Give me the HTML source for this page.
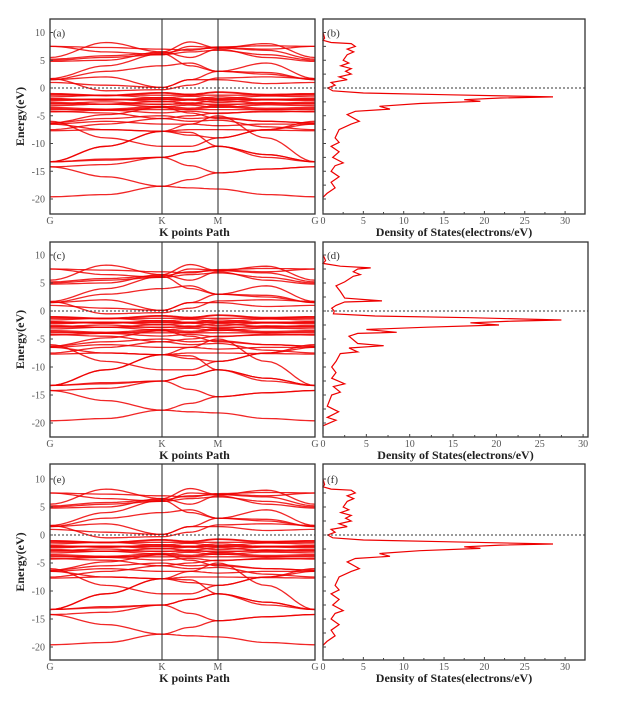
<!DOCTYPE html>
<html><head><meta charset="utf-8"><style>
body{margin:0;background:#fff;}
svg{display:block;font-family:"Liberation Serif",serif;}
</style></head><body>
<svg id="s" width="620" height="701" viewBox="0 0 620 701" xmlns="http://www.w3.org/2000/svg"></svg>
<script>
const S=document.getElementById('s');let h='';
const bands=[
[7.5,7.3,7.0,6.8,7.4,7.6,7.5],[5.5,8.2,6.5,8.3,7.2,8.0,5.5],[5.2,5.8,6.3,7.0,7.2,6.8,5.2],
[5.0,5.5,6.0,6.5,6.8,6.0,5.0],[4.8,5.0,6.5,5.5,7.0,5.5,4.8],[1.7,4.0,6.2,4.0,3.0,4.5,1.7],
[1.5,3.0,4.0,4.5,3.0,2.8,1.5],[1.5,2.0,0.1,1.5,3.0,2.5,1.5],[1.0,0.5,0.1,1.5,1.5,0.8,1.0],
[1.7,-0.5,-0.3,0.5,1.8,2.0,1.7],[7.5,6.5,6.0,7.5,7.3,7.0,7.5],
[-4.2,-4.5,-5.5,-5,-4.5,-4.3,-4.2],[-6.3,-5.5,-5.0,-5.5,-5.3,-6,-6.3],[-6.5,-6,-6.5,-6.5,-6.8,-6.5,-6.5],
[-7.5,-6.5,-5.5,-6,-5.8,-7,-7.5],[-6.5,-7.5,-7.8,-8.5,-9.0,-7.5,-6.5],[-7.7,-7.5,-7.8,-7.5,-7.5,-7.6,-7.7],
[-13.3,-10.5,-7.8,-6.5,-5.0,-9,-13.3],[-6.0,-9.0,-10.5,-10.5,-9,-7.5,-6],
[-13.3,-12.8,-12.5,-11.5,-10.5,-12,-13.3],[-19.6,-19.2,-17.7,-18.0,-18.2,-19.2,-19.6],
[-14.2,-16,-17.7,-16.5,-15.3,-14.6,-14.2],[-13.3,-13,-12.5,-14,-15.3,-14.6,-14.2],
[-14.2,-13.8,-12.5,-11.5,-10.5,-12,-13.3],[-13.3,-10.5,-7.8,-8,-10.5,-12.5,-13.3],
[-6.3,-4.8,-3.5,-4.5,-5.5,-6,-6.3]];
[-1,-1.3,-1.6,-1.9,-2.1,-2.3,-2.6,-2.9,-3.2,-3.5,-3.9,-4.3,-1.1,-2.0,-2.8,-3.7].forEach((v,i)=>{
 const d=(i%3-1)*0.3;bands.push([v,v+d,v-d*0.6,v+d*0.4,v-d,v+d*0.5,v]);});
const dosB=[[0,10],[0.2,9],[0,8.6],[1,8.2],[3.5,8],[4,7.5],[3,7],[3.8,6.5],[3,6],[2.5,5],[3.2,4.5],[2.2,4],[3.5,3.5],[2.8,3],[3.5,2.5],[2,2],[3,1.5],[1,1],[1.5,0.5],[0.6,0],[1.2,-0.5],[5,-0.9],[15,-1.2],[28.5,-1.6],[22,-1.8],[17.5,-2.1],[19.5,-2.4],[12,-2.8],[7,-3.3],[8.3,-3.8],[4,-4.2],[3,-4.8],[4.5,-6],[3.5,-6.5],[2,-7.5],[1.5,-9],[2,-9.8],[1,-10.5],[2,-11.5],[1.2,-12.5],[2.5,-13.5],[1.5,-14],[1,-15],[2,-16],[1,-17],[1.5,-18],[0.5,-19],[0,-19.7]];
const dosD=[[0,10],[0.3,9],[0,8.5],[2,8],[5.5,7.7],[4,7.5],[3.5,7],[4.3,6.5],[3.5,6.2],[2.5,5.2],[1.5,4.5],[2,3.5],[2.5,2.3],[6.8,1.8],[2.5,1.6],[1.5,1],[1,0.5],[1.3,0],[1.2,-0.5],[6,-0.9],[17,-1.2],[27.5,-1.6],[22,-1.8],[17,-2.1],[20.3,-2.5],[12,-2.9],[5,-3.3],[8.5,-3.8],[4,-4],[3,-4.5],[4,-5.8],[7,-6.2],[3,-6.6],[4,-7.3],[2,-7.6],[1.5,-9],[1,-10],[1.5,-11],[1,-12],[2.5,-13],[1.2,-13.5],[2,-14.5],[1,-15],[0.5,-17],[1.8,-18],[0.5,-19],[1.5,-19.5],[0,-20.5]];
function cosi(a,b,t){const m=(1-Math.cos(Math.PI*t))/2;return a+(b-a)*m;}
function panel(top,bot,y0,sc,lab,dos,dx1,dx0,dsc,fr){
 const L=50,R=315,K=162,M=218;const Y=e=>y0-e*sc;
 const xs=[L,(L+K)/2,K,(K+M)/2,M,(M+R)/2,R];
 h+=`<g stroke="#e00" stroke-width="1.3" fill="none" stroke-opacity="0.85">`;
 bands.forEach(b=>{let p='';for(let i=0;i<6;i++){for(let k=0;k<=10;k++){const t=k/10;const x=xs[i]+(xs[i+1]-xs[i])*t;p+=(p?'L':'M')+x.toFixed(1)+' '+Y(cosi(b[i],b[i+1],t)).toFixed(1);}}h+=`<path d="${p}"/>`;});
 h+=`</g>`;
 h+=`<line x1="${L}" x2="${R}" y1="${Y(0)}" y2="${Y(0)}" stroke="#333" stroke-dasharray="2,2"/>`;
 h+=`<line x1="${K}" x2="${K}" y1="${top}" y2="${bot}" stroke="#222"/><line x1="${M}" x2="${M}" y1="${top}" y2="${bot}" stroke="#222"/>`;
 h+=`<rect x="${L}" y="${top}" width="${R-L}" height="${bot-top}" fill="none" stroke="#333" stroke-width="1.3"/>`;
 for(let e=-20;e<=10;e+=5){h+=`<text x="${L-5}" y="${Y(e)+3.5}" font-size="10" fill="#555" text-anchor="end">${e}</text><line x1="${L}" x2="${L+3}" y1="${Y(e)}" y2="${Y(e)}" stroke="#444"/>`;}
 h+=`<text x="${L+3}" y="${Y(10)+4}" font-size="11" fill="#333">(${lab[0]})</text>`;
 [['G',L],['K',K],['M',M],['G',R]].forEach(([t,x])=>h+=`<text x="${x}" y="${bot+10}" font-size="10" fill="#555" text-anchor="middle">${t}</text>`);
 h+=`<text x="${(L+R)/2+12}" y="${bot+22}" font-size="12" font-weight="bold" fill="#222" text-anchor="middle">K points Path</text>`;
 h+=`<text transform="translate(24 ${(top+bot)/2}) rotate(-90)" font-size="12" font-weight="bold" fill="#222" text-anchor="middle">Energy(eV)</text>`;
 const X=v=>dx0+v*dsc;
 h+=`<polyline fill="none" stroke="#e00" stroke-width="1.2" points="${dos.map(p=>X(p[0]).toFixed(1)+','+Y(p[1]).toFixed(1)).join(' ')}"/>`;
 h+=`<line x1="${dx0}" x2="${dx1}" y1="${Y(0)}" y2="${Y(0)}" stroke="#333" stroke-dasharray="2,2"/>`;
 h+=`<rect x="${dx0}" y="${top}" width="${dx1-dx0}" height="${bot-top}" fill="none" stroke="#333" stroke-width="1.3"/>`;
 for(let e=-20;e<=10;e+=2.5)h+=`<line x1="${dx0}" x2="${dx0+3}" y1="${Y(e)}" y2="${Y(e)}" stroke="#444"/>`;
 for(let v=0;v<=30;v+=2.5){h+=`<line x1="${X(v)}" x2="${X(v)}" y1="${bot}" y2="${bot-(v%5?2:3)}" stroke="#444"/>`;if(v%5==0)h+=`<text x="${X(v)}" y="${bot+10}" font-size="10" fill="#555" text-anchor="middle">${v}</text>`;}
 h+=`<text x="${dx0+4}" y="${Y(10)+4}" font-size="11" fill="#333">(${lab[1]})</text>`;
 h+=`<text x="${(dx0+dx1)/2}" y="${bot+22}" font-size="12" font-weight="bold" fill="#222" text-anchor="middle">Density of States(electrons/eV)</text>`;
}
panel(19,214,88,5.55,'ab',dosB,585,323,8.07);
panel(242,437,311,5.6,'cd',dosD,588,323,8.67);
panel(464,660,535,5.6,'ef',dosB,585,323,8.07);
S.innerHTML=h;
</script>
</body></html>
